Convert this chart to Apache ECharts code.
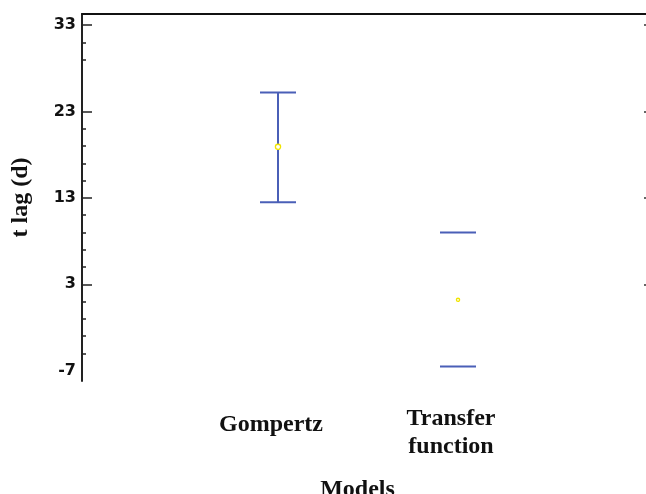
<!DOCTYPE html>
<html>
<head>
<meta charset="utf-8">
<script src="https://cdn.jsdelivr.net/npm/echarts@6/dist/echarts.min.js"></script>
<style>
  html, body { margin: 0; padding: 0; background: #fff; }
  #chart { width: 646px; height: 494px; }
</style>
</head>
<body>
<div id="chart"></div>
<script>
// Lag time estimates (days) with interval bounds for each model
const models = ['Gompertz', 'Transfer\nfunction'];
const positions = [1, 2];
const means = [18.9, 1.2];
const upper = [25.2, 9.0];
const lower = [12.5, -6.5];

// Y axis labels and tick marks
const yLabelValues = [-7, 3, 13, 23, 33];
const yMajorTicks = [3, 13, 23, 33];
const yMinorTicks = [31, 29, 21, 19, 17, 15, 11, 9, 7, 5, 1, -1, -3, -5];

const Y_MIN = -8.19, Y_MAX = 34.27;
const BAR_COLOR = '#4a5fb7';
const MARK_COLOR = '#f0e400';
const SERIF = '"Liberation Serif", "Times New Roman", serif';
const SANS = '"DejaVu Sans", sans-serif';
// only the first interval is drawn with a connecting stem
const stemShown = [true, false];
const markRadius = [2.6, 1.6];

const chart = echarts.init(document.getElementById('chart'), null, { renderer: 'canvas' });

function renderItem(params, api) {
  const x = api.value(0), lo = api.value(1), hi = api.value(2), m = api.value(3);
  const pHi = api.coord([x, hi]);
  const pLo = api.coord([x, lo]);
  const pM = api.coord([x, m]);
  const half = 18;
  const lineStyle = { stroke: BAR_COLOR, lineWidth: 2 };
  const children = [
    { type: 'line', shape: { x1: pHi[0] - half, y1: pHi[1], x2: pHi[0] + half, y2: pHi[1] }, style: lineStyle },
    { type: 'line', shape: { x1: pLo[0] - half, y1: pLo[1], x2: pLo[0] + half, y2: pLo[1] }, style: lineStyle }
  ];
  if (stemShown[params.dataIndex]) {
    children.push({ type: 'line', shape: { x1: pHi[0], y1: pHi[1], x2: pLo[0], y2: pLo[1] }, style: lineStyle });
  }
  children.push({
    type: 'circle',
    shape: { cx: pM[0], cy: pM[1], r: markRadius[params.dataIndex] },
    style: { fill: '#fff', stroke: MARK_COLOR, lineWidth: 1.3 }
  });
  return { type: 'group', children: children };
}

const yBase = { type: 'value', min: Y_MIN, max: Y_MAX, splitLine: { show: false } };

chart.setOption({
  animation: false,
  backgroundColor: '#fff',
  grid: { left: 82, right: -3, top: 14, bottom: 113, containLabel: false, outerBoundsMode: 'none' },
  xAxis: [
    {
      // top frame line, also the scale used for the marks
      type: 'value', position: 'top', min: -0.0889, max: 3.0611,
      axisLine: { show: true, onZero: false, lineStyle: { color: '#111', width: 2 } },
      axisTick: { show: false }, axisLabel: { show: false }, splitLine: { show: false }
    },
    {
      // category labels along the bottom
      type: 'value', position: 'bottom', min: -0.05, max: 3.1,
      axisLine: { show: false, onZero: false }, axisTick: { show: false }, splitLine: { show: false },
      axisLabel: {
        customValues: positions,
        margin: 24,
        formatter: function (v) {
          const i = positions.indexOf(v);
          const lines = models[i].split('\n');
          const tag = lines.length > 1 ? 't' : 'g';
          return lines.map(function (s) { return '{' + tag + '|' + s + '}'; }).join('\n');
        },
        rich: {
          g: { fontFamily: SERIF, fontWeight: 'bold', fontSize: 24, color: '#111', padding: [11, 0, 0, 0], lineHeight: 28 },
          t: { fontFamily: SERIF, fontWeight: 'bold', fontSize: 24, color: '#111', lineHeight: 28 }
        }
      },
      name: 'Models', nameLocation: 'middle', nameGap: 97,
      nameTextStyle: { fontFamily: SERIF, fontWeight: 'bold', fontSize: 24, color: '#111', padding: [0, 16, 0, 0] }
    }
  ],
  yAxis: [
    Object.assign({}, yBase, {
      position: 'left',
      axisLine: { show: true, onZero: false, lineStyle: { color: '#222', width: 2 } },
      axisTick: { show: true, inside: true, length: 10, customValues: yMajorTicks, lineStyle: { color: '#222', width: 1.5 } },
      axisLabel: {
        customValues: yLabelValues, margin: 6,
        fontFamily: SANS, fontWeight: 'bold', fontSize: 16, color: '#111'
      },
      name: 't lag (d)', nameLocation: 'middle', nameRotate: 90, nameGap: 49,
      nameTextStyle: { fontFamily: SERIF, fontWeight: 'bold', fontSize: 24, color: '#111' }
    }),
    Object.assign({}, yBase, {
      position: 'left',
      axisLine: { show: false, onZero: false },
      axisTick: { show: true, inside: true, length: 4, customValues: yMinorTicks, lineStyle: { color: '#222', width: 1.5 } },
      axisLabel: { show: false }
    }),
    Object.assign({}, yBase, {
      position: 'right',
      axisLine: { show: false, onZero: false },
      axisTick: { show: true, inside: true, length: 5, customValues: yMajorTicks, lineStyle: { color: '#333', width: 1.5 } },
      axisLabel: { show: false }
    })
  ],
  series: [{
    type: 'custom',
    xAxisIndex: 0,
    yAxisIndex: 0,
    renderItem: renderItem,
    data: positions.map(function (p, i) { return [p, lower[i], upper[i], means[i]]; }),
    z: 5
  }]
});
</script>
</body>
</html>
